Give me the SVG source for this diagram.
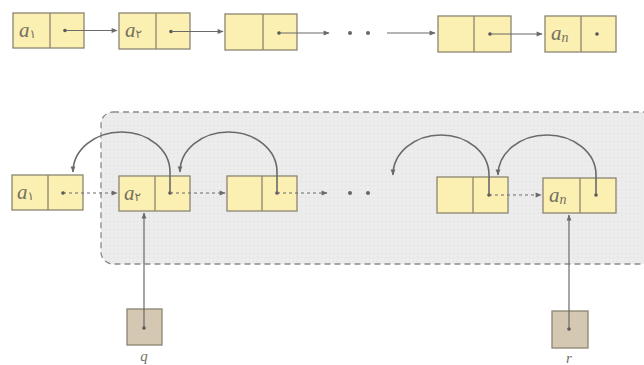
<svg xmlns="http://www.w3.org/2000/svg" width="644" height="365" viewBox="0 0 644 365">
<defs>
<marker id="ah" viewBox="0 0 10 10" refX="9" refY="5" markerWidth="7" markerHeight="6" orient="auto" markerUnits="userSpaceOnUse">
<path d="M0,1 L10,5 L0,9 z" fill="#6a6a6a"/>
</marker>
<pattern id="dots" width="4" height="4" patternUnits="userSpaceOnUse">
<rect width="4" height="4" fill="#ececec"/>
<rect x="1" y="1" width="1" height="1" fill="#dedede"/>
</pattern>
<style>
.cell{fill:#fbefb2;stroke:#8c8472;stroke-width:1.3}
.ptr{fill:#d5c8b2;stroke:#8c8472;stroke-width:1.3}
.dv{stroke:#8c8472;stroke-width:1.3}
.dot{fill:#555}
.lbl{font-family:"Liberation Serif",serif;font-style:italic;font-size:21px;fill:#757060}
.sub{font-family:"DejaVu Sans",sans-serif;font-style:normal;font-size:12px}
.subn{font-family:"Liberation Serif",serif;font-style:italic;font-size:14px}
.ln{fill:none;stroke:#6a6a6a;stroke-width:1.2}
.dl{fill:none;stroke:#6a6a6a;stroke-width:1.2;stroke-dasharray:3 3}
.arc{fill:none;stroke:#6a6a6a;stroke-width:1.6}
.ell{fill:#666}
.pl{font-family:"Liberation Serif",serif;font-style:italic;font-size:15px;fill:#757060}
</style>
</defs>
<rect x="101" y="112" width="570" height="152" rx="12" fill="url(#dots)" stroke="#8a8a8a" stroke-width="1.3" stroke-dasharray="6 4"/>
<g id="t1"><rect class="cell" x="13" y="13" width="71" height="35"/><line class="dv" x1="50" y1="13" x2="50" y2="48"/><text class="lbl" x="19" y="37">a<tspan class="sub" dy="1">۱</tspan></text><circle class="dot" cx="65" cy="30.5" r="1.8"/></g>
<g id="t2"><rect class="cell" x="119" y="13" width="71" height="36"/><line class="dv" x1="156" y1="13" x2="156" y2="49"/><text class="lbl" x="125" y="37">a<tspan class="sub" dy="1">۲</tspan></text><circle class="dot" cx="171" cy="31.5" r="1.8"/></g>
<g id="t3"><rect class="cell" x="225" y="14" width="72" height="36"/><line class="dv" x1="263" y1="14" x2="263" y2="50"/><circle class="dot" cx="279" cy="33" r="1.8"/></g>
<g id="t4"><rect class="cell" x="438" y="16" width="73" height="36"/><line class="dv" x1="474" y1="16" x2="474" y2="52"/><circle class="dot" cx="490" cy="34" r="1.8"/></g>
<g id="t5"><rect class="cell" x="545" y="16" width="71" height="36"/><line class="dv" x1="581" y1="16" x2="581" y2="52"/><text class="lbl" x="551" y="40">a<tspan class="subn" dy="2">n</tspan></text><circle class="dot" cx="597" cy="34" r="1.8"/></g>
<g id="b1"><rect class="cell" x="12" y="175" width="71" height="35"/><line class="dv" x1="48" y1="175" x2="48" y2="210"/><text class="lbl" x="17" y="199">a<tspan class="sub" dy="1">۱</tspan></text><circle class="dot" cx="63" cy="193" r="1.8"/></g>
<g id="b2"><rect class="cell" x="119" y="176" width="71" height="35"/><line class="dv" x1="155" y1="176" x2="155" y2="211"/><text class="lbl" x="124" y="200">a<tspan class="sub" dy="1">۲</tspan></text><circle class="dot" cx="170" cy="193" r="1.8"/></g>
<g id="b3"><rect class="cell" x="227" y="176" width="70" height="35"/><line class="dv" x1="262" y1="176" x2="262" y2="211"/><circle class="dot" cx="277" cy="193" r="1.8"/></g>
<g id="b4"><rect class="cell" x="437" y="177" width="71" height="36"/><line class="dv" x1="473" y1="177" x2="473" y2="213"/><circle class="dot" cx="489" cy="195" r="1.8"/></g>
<g id="b5"><rect class="cell" x="543" y="178" width="73" height="35"/><line class="dv" x1="580" y1="178" x2="580" y2="213"/><text class="lbl" x="549" y="202">a<tspan class="subn" dy="2">n</tspan></text><circle class="dot" cx="596" cy="195" r="1.8"/></g>
<g id="q"><rect class="ptr" x="127" y="309" width="35" height="36"/><circle class="dot" cx="144" cy="328" r="1.8"/><text class="pl" x="144" y="361" text-anchor="middle">q</text></g>
<g id="r"><rect class="ptr" x="552" y="311" width="36" height="37"/><circle class="dot" cx="569" cy="329" r="1.8"/><text class="pl" x="569" y="363" text-anchor="middle">r</text></g>
<g id="ellipses">
<circle class="ell" cx="350" cy="33" r="2"/><circle class="ell" cx="368" cy="33" r="2"/>
<circle class="ell" cx="350" cy="193" r="2"/><circle class="ell" cx="368" cy="193" r="2"/>
</g>
<g id="connectors">
<line class="ln" x1="65" y1="30.5" x2="117" y2="30.5" marker-end="url(#ah)"/>
<line class="ln" x1="171" y1="31.5" x2="223" y2="31.5" marker-end="url(#ah)"/>
<line class="ln" x1="279" y1="33" x2="329" y2="33" marker-end="url(#ah)"/>
<line class="ln" x1="387" y1="33" x2="435" y2="33" marker-end="url(#ah)"/>
<line class="ln" x1="490" y1="34" x2="542" y2="34" marker-end="url(#ah)"/>
<line class="dl" x1="63" y1="193" x2="117" y2="193" marker-end="url(#ah)"/>
<line class="dl" x1="170" y1="193" x2="225" y2="193" marker-end="url(#ah)"/>
<line class="dl" x1="277" y1="193" x2="327" y2="193" marker-end="url(#ah)"/>
<line class="dl" x1="489" y1="195" x2="541" y2="195" marker-end="url(#ah)"/>
<path class="arc" d="M170,193 V172 A48.5,40 0 0 0 73,172" marker-end="url(#ah)"/>
<path class="arc" d="M277,193 V172 A48.5,40 0 0 0 180,172" marker-end="url(#ah)"/>
<path class="arc" d="M489,195 V175 A48,40 0 0 0 393,175" marker-end="url(#ah)"/>
<path class="arc" d="M596,195 V175 A49,40 0 0 0 498,175" marker-end="url(#ah)"/>
<line class="ln" x1="144" y1="328" x2="144" y2="213" marker-end="url(#ah)"/>
<line class="ln" x1="569" y1="329" x2="569" y2="215" marker-end="url(#ah)"/>
</g>
</svg>
